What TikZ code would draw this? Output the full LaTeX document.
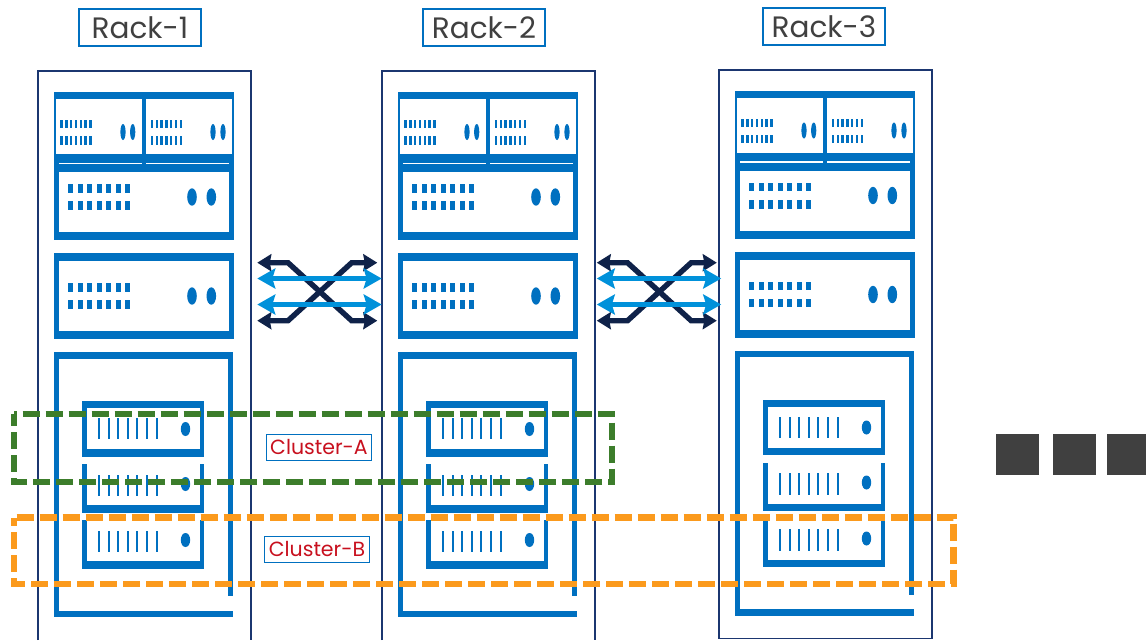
\documentclass[tikz,border=0pt]{standalone}
\usepackage{fontspec}
\setmainfont{Poppins}
\usetikzlibrary{arrows.meta}
\definecolor{rackblue}{HTML}{0070C0}
\definecolor{framenavy}{HTML}{1B3670}
\definecolor{linknavy}{HTML}{0F2249}
\definecolor{linkblue}{HTML}{0091DA}
\definecolor{clustergreen}{HTML}{3C7D2B}
\definecolor{clusterorange}{HTML}{FB9A1D}
\definecolor{labelgray}{HTML}{404040}
\definecolor{labelred}{HTML}{C8101E}
\tikzset{rackframe/.style = {draw = framenavy, line width = 1.5}}
\tikzset{racklabel/.style = {draw = rackblue, fill = white, line width = 1.6, text = labelgray,
                             minimum width = 122, minimum height = 37, inner sep = 0,
                             font = \fontsize{29.5}{32}\selectfont}}
\tikzset{clusterlabel/.style = {draw = rackblue, fill = white, line width = 1.3, text = labelred,
                                minimum width = 105, minimum height = 26, inner sep = 0,
                                font = \fontsize{20.5}{22}\selectfont}}
\tikzset{clusterbox/.style = {line width = 6.2, dash pattern = on 17.3 off 5.7}}
\tikzset{darklink/.style = {draw = linknavy, line width = 5.4,
                            {Stealth[length=14,width=17,inset=1.5]}-{Stealth[length=14,width=17,inset=1.5]}}}
\tikzset{lightlink/.style = {draw = linkblue, line width = 5,
                             {Stealth[length=18,width=20,inset=3]}-{Stealth[length=18,width=20,inset=3]}}}
\tikzset{switchbox/.pic = {
    \fill [rackblue] (54, 253) rectangle (234, 339);
    \fill [white] (59, 261) rectangle (229, 331);
    \foreach \i in {0, ..., 6} {
      \fill [rackblue] (68 + 9.5 * \i, 283) rectangle ++(5, 8.7);
      \fill [rackblue] (68 + 9.5 * \i, 300) rectangle ++(5, 8.7);
    }
    \fill [rackblue] (192, 296) ellipse [x radius = 4.8, y radius = 8.7];
    \fill [rackblue] (211.3, 296) ellipse [x radius = 4.8, y radius = 8.7];
  }}
\tikzset{topswitch/.pic = {
    \fill [rackblue] (54, 92) rectangle (234, 172);
    \fill [rackblue] (54, 172) rectangle (234, 240);
    \fill [white] (56, 99) rectangle (142, 154);
    \fill [white] (146, 99) rectangle (232, 154);
    \fill [white] (59, 162.6) rectangle (142, 164);
    \fill [white] (146, 162.6) rectangle (229, 164);
    \fill [white] (59, 172) rectangle (229, 232);
    \foreach \i in {0, ..., 6} {
      \fill [rackblue] (60.4 + 4.8 * \i, 120) rectangle ++(2.4, 8.3);
      \fill [rackblue] (60.4 + 4.8 * \i, 136.4) rectangle ++(2.4, 8.3);
      \fill [rackblue] (150.8 + 4.8 * \i, 120) rectangle ++(2.4, 8.3);
      \fill [rackblue] (150.8 + 4.8 * \i, 136.4) rectangle ++(2.4, 8.3);
      \fill [rackblue] (68 + 9.5 * \i, 184) rectangle ++(5, 8.7);
      \fill [rackblue] (68 + 9.5 * \i, 201.3) rectangle ++(5, 8.7);
    }
    \foreach \x in {123, 132.7, 213, 223}
      \fill [rackblue] (\x, 132) ellipse [x radius = 2.6, y radius = 8];
    \fill [rackblue] (192, 197) ellipse [x radius = 4.8, y radius = 8.7];
    \fill [rackblue] (211.3, 197) ellipse [x radius = 4.8, y radius = 8.7];
  }}
\tikzset{servers/.pic = {
    % enclosure
    \fill [rackblue] (54, 352) rectangle (232.7, 358.7);
    \fill [rackblue] (54, 352) rectangle (58.7, 617.3);
    \fill [rackblue] (228.3, 352) rectangle (232.7, 596);
    \fill [rackblue] (54, 610.7) rectangle (232.7, 617.3);
    % first server has a lid, the other two are open at the top
    \fill [rackblue] (82, 401) rectangle (204, 456.7);
    \fill [white] (86.7, 408) rectangle (200, 449.3);
    \foreach \y in {464, 520} {
      \fill [rackblue] (82, \y) rectangle (204, \y + 48.7);
      \fill [white] (86.7, \y - 1) rectangle (200, \y + 41.3);
    }
    \foreach \y/\d in {418/429, 474.7/484, 530.7/540} {
      \foreach \i in {0, ..., 6}
        \fill [rackblue] (99 + 9.6 * \i - 1, \y) rectangle ++(2, 21.3);
      \fill [rackblue] (185.5, \d) ellipse [x radius = 4.7, y radius = 7];
    }
  }}
\tikzset{crosslink/.pic = {
    \coordinate (-nw) at (257.3, 262.7);
    \coordinate (-ne) at (377.3, 262.7);
    \coordinate (-sw) at (257.3, 320.7);
    \coordinate (-se) at (377.3, 320.7);
    \coordinate (-upl) at (257.3, 278.5);
    \coordinate (-upr) at (381.7, 278.5);
    \coordinate (-lol) at (257.3, 304.5);
    \coordinate (-lor) at (381.7, 304.5);
    \draw [darklink] (-nw) -- (288, 262.7) -- (351.7, 320.7) -- (-se);
    \draw [darklink] (-sw) -- (288, 320.7) -- (351.7, 262.7) -- (-ne);
    \draw [lightlink] (-upl) -- (-upr);
    \draw [lightlink] (-lol) -- (-lor);
  }}
\begin{document}
\begin{tikzpicture}[x=1pt, y=-1pt]
  \useasboundingbox (0, 0) rectangle (1146, 640);
  % rack frames
  \draw [rackframe] (38, 640) -- (38, 71) -- (251, 71) -- (251, 640);
  \draw [rackframe] (382, 640) -- (382, 71) -- (595, 71) -- (595, 640);
  \draw [rackframe] (719, 638.5) rectangle (932, 70);
  \foreach \dx/\dy in {0/0, 344/0, 681/-1.5} {
    \pic at (\dx, \dy) {topswitch};
    \pic at (\dx, \dy) {switchbox};
    \pic at (\dx, \dy) {servers};
  }
  \pic (linkA) at (0, 0) {crosslink};
  \pic (linkB) at (339.5, 0) {crosslink};
  \node [racklabel] (rack1) at (140, 27.5) {Rack-1};
  \node [racklabel] (rack2) at (484, 27.5) {Rack-2};
  \node [racklabel] (rack3) at (824, 26.5) {Rack-3};
  \draw [clusterbox, clustergreen, dash phase = 14.3] (14, 413.8) -- (612, 413.8) -- (612, 481.7) -- (14, 481.7) -- cycle;
  \draw [clusterbox, clusterorange, dash phase = 20.3] (14, 517.5) -- (953.5, 517.5) -- (953.5, 584) -- (14, 584) -- cycle;
  \node [clusterlabel] (clusterA) at (319, 447.3) {Cluster-A};
  \node [clusterlabel] (clusterB) at (317, 549.3) {Cluster-B};
  \fill [labelgray] (996, 434) rectangle (1039, 475);
  \fill [labelgray] (1053, 434) rectangle (1096, 475);
  \fill [labelgray] (1107, 434) rectangle (1146, 475);
\end{tikzpicture}
\end{document}
